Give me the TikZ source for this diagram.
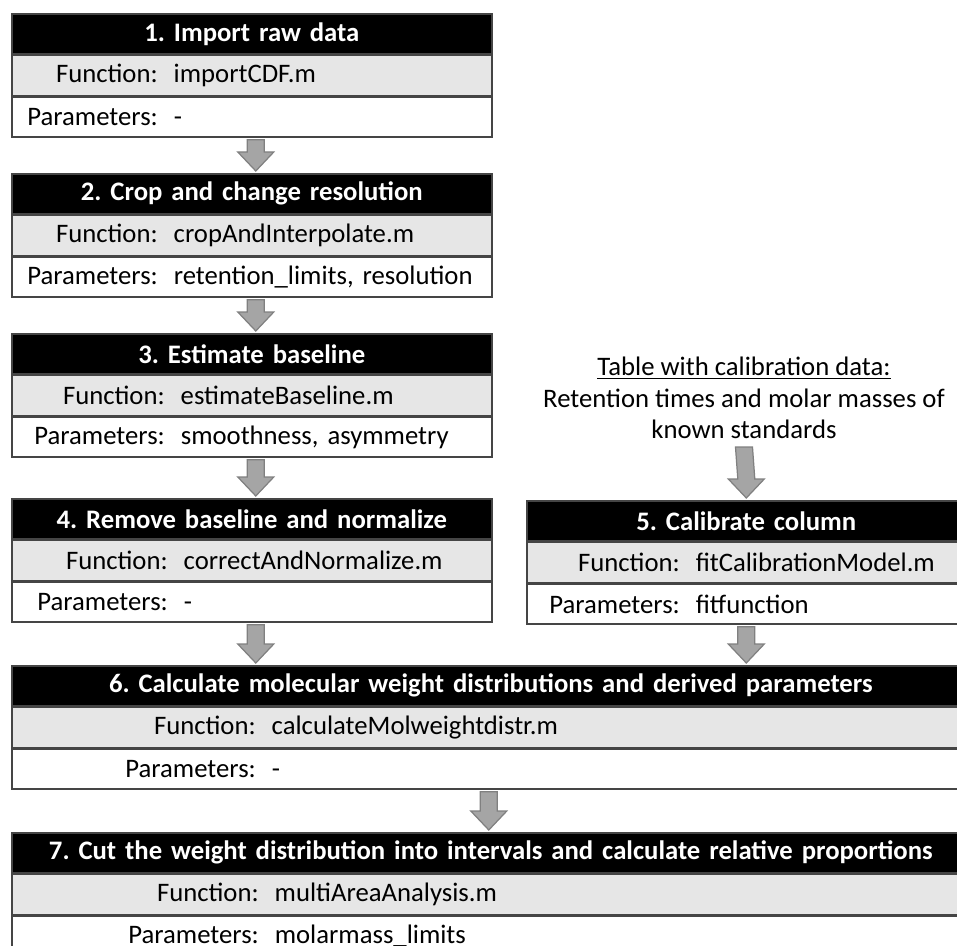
\documentclass[tikz,border=0pt]{standalone}
\usepackage{fontspec}
\setmainfont{Carlito}
\usepackage{xcolor}
\usepackage{tikz}
\usetikzlibrary{positioning, calc}
\frenchspacing
\newlength{\pxl}
\setlength{\pxl}{0.02cm}
\definecolor{rowgray}{HTML}{E6E6E6}
\definecolor{boxline}{HTML}{454545}
\definecolor{arrowfill}{HTML}{A5A5A5}
\definecolor{arrowedge}{HTML}{808080}
\tikzstyle{every node}=[font=\fontsize{15.2pt}{18pt}\selectfont]
\tikzstyle{head} = [rectangle, fill=black, draw=boxline, line width=0.9pt, text=white, font=\fontsize{15.2pt}{18pt}\selectfont\bfseries, text width=480\pxl, align=center, minimum height=40\pxl, inner sep=0pt, anchor=north west]
\tikzstyle{funrow} = [rectangle, fill=rowgray, draw=boxline, line width=0.9pt, text width=480\pxl, align=left, minimum height=40\pxl, inner sep=0pt]
\tikzstyle{parrow} = [rectangle, fill=white, draw=boxline, line width=0.9pt, text width=480\pxl, align=left, minimum height=40\pxl, inner sep=0pt]
\tikzstyle{bigarrow} = [fill=arrowfill, draw=arrowedge, line width=0.7pt, line join=miter]
% label right-aligned at #1, value after a small gap
\newcommand{\rowtxt}[3]{\makebox[#1\pxl][r]{#2}\hspace{16\pxl}#3}
% block arrow from #2 down to #3, shifted sideways by #1
\newcommand{\flowarrow}[3][0]{\filldraw[bigarrow] ($(#2)+(#1-8.5,2)$) -- ($(#2)+(#1+8.5,2)$) -- ($(#3)+(#1+8.5,-21)$) -- ($(#3)+(#1+18,-21)$) -- ($(#3)+(#1,-2)$) -- ($(#3)+(#1-18,-21)$) -- ($(#3)+(#1-8.5,-21)$) -- cycle;}

\begin{document}
\begin{tikzpicture}[x=1\pxl, y=-1\pxl]
		\useasboundingbox (0,0) rectangle (957,946);
		\node (h1) [head] at (11,13) {1. Import raw data};
		\node (f1) [funrow, below=0pt of h1] {\rowtxt{146}{Function:}{importCDF.m}};
		\node (p1) [parrow, below=0pt of f1] {\rowtxt{146}{Parameters:}{-}};
		\node (h2) [head] at (11,173) {2. Crop and change resolution};
		\node (f2) [funrow, below=0pt of h2] {\rowtxt{146}{Function:}{cropAndInterpolate.m}};
		\node (p2) [parrow, below=0pt of f2] {\rowtxt{146}{Parameters:}{retention\_limits, resolution}};
		\node (h3) [head] at (11,333) {3. Estimate baseline};
		\node (f3) [funrow, below=0pt of h3] {\rowtxt{153}{Function:}{estimateBaseline.m}};
		\node (p3) [parrow, below=0pt of f3] {\rowtxt{153}{Parameters:}{smoothness, asymmetry}};
		\node (h4) [head] at (11,498) {4. Remove baseline and normalize};
		\node (f4) [funrow, below=0pt of h4] {\rowtxt{156}{Function:}{correctAndNormalize.m}};
		\node (p4) [parrow, below=0pt of f4] {\rowtxt{156}{Parameters:}{-}};
		\node (calib) [align=center, font=\fontsize{15.2pt}{17.9pt}\selectfont] at (744,398) {\underline{Table with calibration data:}\\Retention times and molar masses of\\known standards};
		\node (h5) [head, text width=439\pxl] at (526,500) {5. Calibrate column};
		\node (f5) [funrow, text width=439\pxl, below=0pt of h5] {\rowtxt{153}{Function:}{fitCalibrationModel.m}};
		\node (p5) [parrow, text width=439\pxl, below=0pt of f5] {\rowtxt{153}{Parameters:}{fitfunction}};
		\node (h6) [head, text width=958\pxl] at (11,665) {6. Calculate molecular weight distributions and derived parameters};
		\node (f6) [funrow, text width=958\pxl, below=0pt of h6] {\rowtxt{244}{Function:}{calculateMolweightdistr.m}};
		\node (p6) [parrow, text width=958\pxl, below=0pt of f6] {\rowtxt{244}{Parameters:}{-}};
		\node (h7) [head, text width=958\pxl] at (11,832) {7. Cut the weight distribution into intervals and calculate relative proportions};
		\node (f7) [funrow, text width=958\pxl, below=0pt of h7] {\rowtxt{247}{Function:}{multiAreaAnalysis.m}};
		\node (p7) [parrow, text width=958\pxl, below=0pt of f7] {\raisebox{4\pxl}{\rowtxt{247}{Parameters:}{molarmass\_limits}}};
		\coordinate (t46) at (p4.south |- h6.north);
		\coordinate (t56) at (p5.south |- h6.north);
		\flowarrow[4]{p1.south}{h2.north}
		\flowarrow[4]{p2.south}{h3.north}
		\flowarrow[4]{p3.south}{h4.north}
		\flowarrow{calib.south}{h5.north}
		\flowarrow[4]{p4.south}{t46}
		\flowarrow{p5.south}{t56}
		\flowarrow[-2]{p6.south}{h7.north}
	\end{tikzpicture}
\end{document}
